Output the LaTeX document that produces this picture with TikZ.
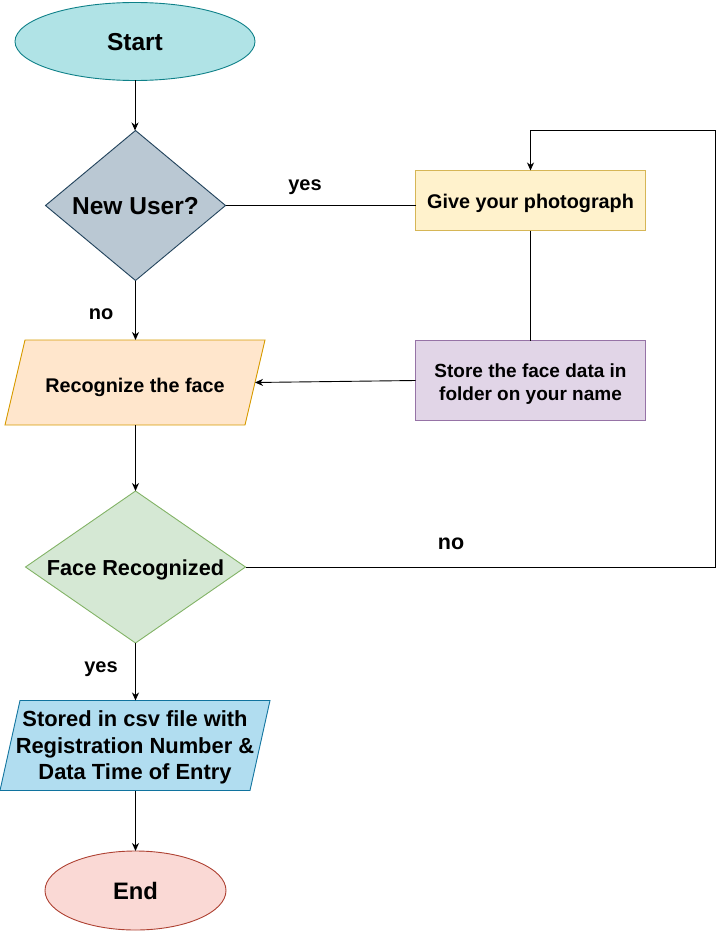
\documentclass[tikz,border=0pt]{standalone}
\usepackage{fontspec}
\setmainfont{Liberation Sans}
\usetikzlibrary{shapes.geometric,arrows.meta,backgrounds}
\definecolor{startF}{HTML}{B0E3E6}\definecolor{startD}{HTML}{0E8088}
\definecolor{nuF}{HTML}{BAC8D3}\definecolor{nuD}{HTML}{23445D}
\definecolor{gpF}{HTML}{FFF2CC}\definecolor{gpD}{HTML}{D6B656}
\definecolor{stF}{HTML}{E1D5E7}\definecolor{stD}{HTML}{9673A6}
\definecolor{recF}{HTML}{FFE6CC}\definecolor{recD}{HTML}{D79B00}
\definecolor{frF}{HTML}{D5E8D4}\definecolor{frD}{HTML}{82B366}
\definecolor{csvF}{HTML}{B1DDF0}\definecolor{csvD}{HTML}{10739E}
\definecolor{endF}{HTML}{FAD9D5}\definecolor{endD}{HTML}{AE4132}
\begin{document}
\begin{tikzpicture}[x=1pt,y=-1pt,
  every node/.style={font=\bfseries, inner sep=0pt, outer sep=0pt, text depth=0pt},
  capht/.style={text height=#1},
  base/.style={line width=0.9pt},
  oval/.style={base, ellipse},
  dia/.style={base, diamond},
  box/.style={base, rectangle},
  conn/.style={line width=0.9pt, black},
  arr/.style={conn, -{Stealth[length=8pt,width=7pt,inset=2.5pt]}},
  lbl/.style={capht=14.3pt, font=\bfseries\fontsize{20}{24}\selectfont}
]
\useasboundingbox (0,0) rectangle (724,931);

\node[oval, capht=17.5pt, fill=startF, draw=startD, minimum width=240pt, minimum height=78pt,
      font=\bfseries\fontsize{24.5}{29}\selectfont] (start) at (135,41.5) {Start};

\node[dia, capht=18.5pt, fill=nuF, draw=nuD, minimum width=180pt, minimum height=150pt, aspect=1.2,
      font=\bfseries\fontsize{24.5}{29}\selectfont] (nu) at (135.5,205.5) {New User?};

\node[box, capht=16.2pt, fill=gpF, draw=gpD, minimum width=230pt, minimum height=60pt,
      font=\bfseries\fontsize{19.8}{24}\selectfont] (gp) at (530.5,200.5) {Give your photograph};

\node[box, fill=stF, draw=stD, minimum width=230pt, minimum height=80pt, align=center,
      font=\bfseries\fontsize{19}{23}\selectfont] (st) at (530.5,380.5) {\rule{0pt}{17.7pt}Store the face data in\\folder on your name};

\node[box, capht=20.2pt, minimum width=260pt, minimum height=85pt,
      font=\bfseries\fontsize{19.8}{24}\selectfont] (rec) at (135,382.5) {Recognize the face};
\begin{scope}[on background layer]
\draw[base, fill=recF, draw=recD] ([xshift=20pt]rec.north west) -- (rec.north east)
  -- ([xshift=-20pt]rec.south east) -- (rec.south west) -- cycle;
\end{scope}
\coordinate (recE) at ([xshift=-10pt]rec.east);

\node[dia, capht=16.5pt, fill=frF, draw=frD, minimum width=220pt, minimum height=152pt, aspect=1.447,
      font=\bfseries\fontsize{21.7}{26}\selectfont] (fr) at (135.5,567) {Face Recognized};

\node[box, minimum width=270pt, minimum height=90pt, align=center,
      font=\bfseries\fontsize{21.9}{26.5}\selectfont] (csv) at (135,745.5) {Stored in csv file with\\Registration Number \&\\Data Time of Entry};
\begin{scope}[on background layer]
\draw[base, fill=csvF, draw=csvD] ([xshift=20pt]csv.north west) -- (csv.north east)
  -- ([xshift=-20pt]csv.south east) -- (csv.south west) -- cycle;
\end{scope}

\node[oval, capht=17pt, fill=endF, draw=endD, minimum width=181pt, minimum height=79pt,
      font=\bfseries\fontsize{23.8}{29}\selectfont] (end) at (135.5,890.5) {End};

\coordinate (loopR) at (715,130);

\draw[arr] (start.south) -- (start.south |- nu.north);
\draw[conn] (nu.east) -- (nu.east -| gp.west);
\draw[conn] (gp.south) -- (st.north);
\draw[arr] (st.west) -- (recE);
\draw[arr] (nu.south) -- (nu.south |- rec.north);
\draw[arr] (nu.south |- rec.south) -- (fr.north);
\draw[arr] (fr.east) -| (loopR) -| (gp.north);
\draw[arr] (fr.south) -- (fr.south |- csv.north);
\draw[arr] (fr.south |- csv.south) -- (end.north);

\node[lbl] (lyes1) at (305,183) {yes};
\node[lbl] (lno1) at (101,312) {no};
\node[lbl, capht=15.4pt, font=\bfseries\fontsize{21.5}{26}\selectfont] (lno2) at (451,542) {no};
\node[lbl] (lyes2) at (101,665) {yes};
\end{tikzpicture}
\end{document}
